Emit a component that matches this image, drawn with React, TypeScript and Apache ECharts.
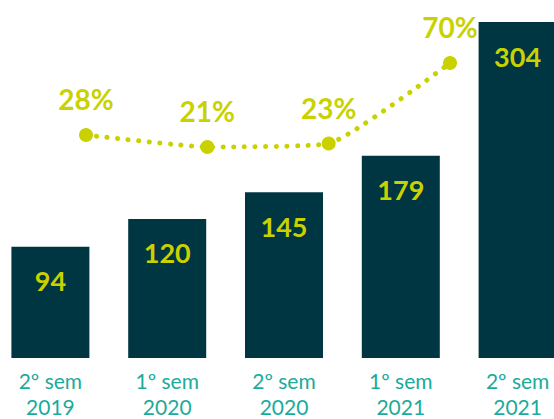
import React, { useEffect, useRef } from "react";
import * as echarts from "echarts";

const categories = ["2º sem\n2019", "1º sem\n2020", "2º sem\n2020", "1º sem\n2021", "2º sem\n2021"];
const barValues = [94, 120, 145, 179, 304];
// growth between consecutive periods
const growthCategories = ["2019-2/2020-1", "2020-1/2020-2", "2020-2/2021-1", "2021-1/2021-2"];
const pctValues = [28, 21, 23, 70];

const DARK = "#003641";
const LIME = "#c9d200";
const TEAL = "#1aab9b";
const FONT = "Lato, 'Open Sans', sans-serif";

export default function App() {
  const ref = useRef<HTMLDivElement>(null);
  useEffect(() => {
    if (!ref.current) return;
    document.body.style.margin = "0";
    const chart = echarts.init(ref.current, null, { renderer: "svg" });
    chart.setOption({
      animation: false,
      grid: [
        { left: 0, right: 0, top: 22, height: 338, containLabel: false },
        { left: 94, right: 126, top: 22, height: 338, containLabel: false },
      ],
      xAxis: [
        {
          type: "category",
          gridIndex: 0,
          data: categories,
          axisLine: { show: false },
          axisTick: { show: false },
          axisLabel: {
            color: TEAL,
            fontFamily: FONT,
            fontSize: 21,
            lineHeight: 26,
            margin: 9,
            interval: 0,
          },
        },
        {
          type: "category",
          gridIndex: 1,
          data: growthCategories,
          boundaryGap: false,
          show: false,
        },
      ],
      yAxis: [
        { type: "value", gridIndex: 0, min: -10, max: 304, show: false, splitLine: { show: false } },
        { type: "value", gridIndex: 1, min: -103.3, max: 93.9, show: false, splitLine: { show: false } },
      ],
      series: [
        {
          type: "custom",
          xAxisIndex: 0,
          yAxisIndex: 0,
          data: barValues.map((v, i) => [i, v]),
          encode: { x: 0, y: 1 },
          renderItem: (params: any, api: any) => {
            const idx = api.value(0);
            const val = api.value(1);
            const top = api.coord([idx, val]);
            const cs = params.coordSys;
            const bottomY = cs.y + cs.height;
            const w = 78;
            return {
              type: "group",
              children: [
                {
                  type: "rect",
                  shape: { x: top[0] - w / 2, y: top[1], width: w, height: bottomY - top[1] },
                  style: { fill: DARK },
                },
                {
                  type: "text",
                  x: top[0],
                  y: top[1] + 34,
                  style: {
                    text: String(val),
                    fill: LIME,
                    fontFamily: FONT,
                    fontWeight: "bold",
                    fontSize: 27,
                    align: "center",
                    verticalAlign: "middle",
                  },
                },
              ],
            };
          },
          z: 2,
        },
        {
          type: "line",
          xAxisIndex: 1,
          yAxisIndex: 1,
          data: pctValues,
          smooth: 0.15,
          symbol: "circle",
          symbolSize: 14,
          itemStyle: { color: LIME },
          lineStyle: { color: LIME, width: 5, type: [0.1, 10.5], cap: "round" },
          label: {
            show: true,
            position: "top",
            distance: 15,
            formatter: "{c}%",
            color: LIME,
            fontFamily: FONT,
            fontWeight: "bold",
            fontSize: 28,
            lineHeight: 28,
          },
          z: 3,
        },
      ],
    });
    return () => chart.dispose();
  }, []);
  return (
    <div style={{ position: "fixed", left: 0, top: 0, width: 554, height: 419, overflow: "hidden", background: "#fff" }}>
      <div ref={ref} style={{ position: "absolute", left: -8, top: 0, width: 584, height: 419 }} />
    </div>
  );
}
